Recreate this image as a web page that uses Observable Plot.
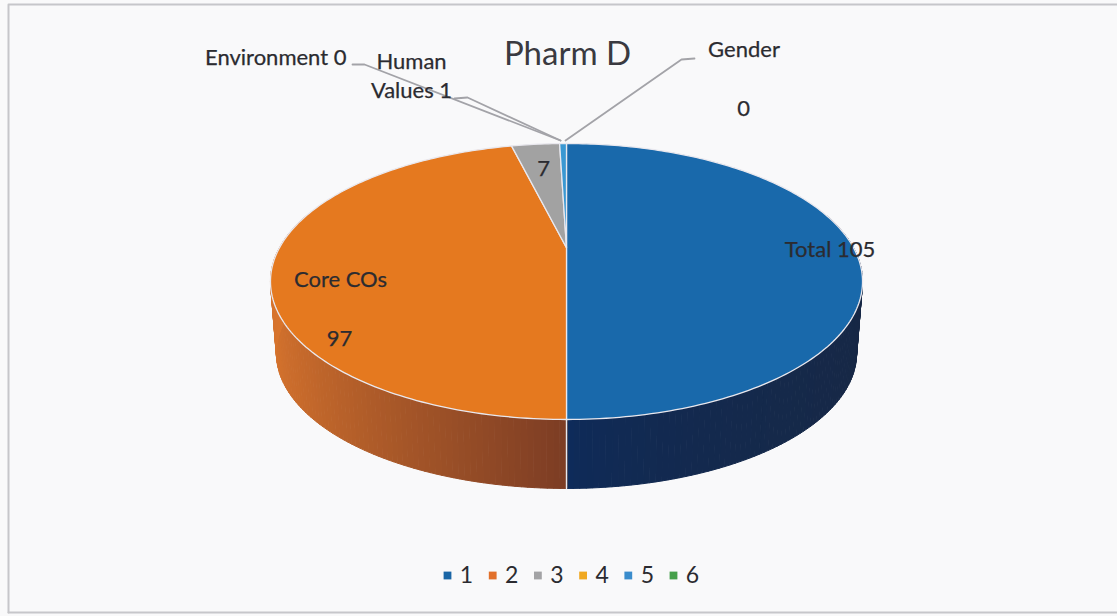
<!DOCTYPE html>
<html>
<head>
<meta charset="utf-8">
<script src="https://cdn.jsdelivr.net/npm/d3@7"></script>
<script src="https://cdn.jsdelivr.net/npm/@observablehq/plot@0.6"></script>
<style>
html,body{margin:0;padding:0;background:#f9f9fa;overflow:hidden}
svg{display:block;background:transparent !important}
</style>
</head>
<body>
<div id="chart"></div>
<script>
// DATA
const seriesIds = ["1", "2", "3", "4", "5", "6"];
const seriesValues = [105, 97, 7, 0, 1, 0];
const titleText = "Pharm D";
const valueLabels = ["Total 105", "Core COs", "97", "7", "Environment 0", "Human", "Values 1", "Gender", "0"];

// STYLE & LAYOUT
const W = 1117, H = 616;
const cx = 566, c0 = 247.2;            // projected pie centre
const persp = 0.245, A = 287, B = 129.7; // perspective tilt of the disc
const baseScale = 0.98, baseDrop = 72.4; // lower rim of the cylinder
const topColors = ["#1969ab", "#e5791f", "#a2a2a2", "#f0a81c", "#3a98d2", "#4ea345"];
const legendColors = ["#1a66a6", "#e2702a", "#a3a3a5", "#f0a820", "#3a8ccc", "#45a04a"];
const sideRamps = [["#0d2b5c", "#172845"], ["#7c3d24", "#d9752d"], ["#666", "#666"], ["#a07010", "#a07010"], ["#25608a", "#25608a"], ["#2f6e30", "#2f6e30"]];
const labelPlace = [
  [829.5, 249, "middle"], [340, 279, "middle"], [339, 338, "middle"], [543, 168, "middle"],
  [346, 57, "end"], [411, 61, "middle"], [411, 90, "middle"], [743.5, 49, "middle"], [743, 108, "middle"]
];
const leaderPaths = [
  [[352, 64], [364, 64], [560, 140]],
  [[454, 98], [467, 97], [560, 140]],
  [[694, 58], [681, 59], [565, 140]]
];
const legendX = seriesIds.map((_, i) => 447 + i * 45.2);

// GEOMETRY derived from the values
const pie = d3.pie().sort(null).value(d => d)(seriesValues);
function pt(a, lower = false) {
  const u = Math.sin(a), v = Math.cos(a), w = 1 + persp * v;
  const X = A * u / w, Y = -B * v / w;
  return lower ? {x: cx + baseScale * X, y: c0 + baseScale * Y + baseDrop} : {x: cx + X, y: c0 + Y};
}
const STEP = Math.PI / 180;

const topRows = [];
pie.forEach((s, i) => {
  if (s.value === 0) return;
  topRows.push({id: i, color: topColors[i], x: cx, y: c0});
  const n = Math.max(2, Math.ceil((s.endAngle - s.startAngle) / STEP));
  for (let k = 0; k <= n; k++) {
    const a = s.startAngle + (s.endAngle - s.startAngle) * k / n;
    topRows.push({id: i, color: topColors[i], ...pt(a)});
  }
});

const sideRows = [];
let segId = 0;
const sideFrom = 75 * STEP, sideTo = 285 * STEP;
pie.forEach((s, i) => {
  const from = Math.max(s.startAngle, sideFrom), to = Math.min(s.endAngle, sideTo);
  if (to <= from) return;
  const n = Math.ceil((to - from) / STEP);
  for (let k = 0; k < n; k++) {
    const a0 = from + (to - from) * k / n, a1 = from + (to - from) * (k + 1) / n;
    const u = Math.min(1, Math.abs(Math.sin((a0 + a1) / 2)));
    const t = i === 0 ? Math.sqrt(u) : u;
    const color = d3.interpolateRgb(sideRamps[i][0], sideRamps[i][1])(t);
    const id = segId++;
    sideRows.push({id, color, ...pt(a0)}, {id, color, ...pt(a1)}, {id, color, ...pt(a1, true)}, {id, color, ...pt(a0, true)});
  }
});
const seam = [pt(Math.PI), pt(Math.PI, true)];

const leaderRows = leaderPaths.flatMap((p, id) => p.map(([x, y]) => ({id, x, y})));
const labelRows = valueLabels.map((text, i) => ({text, x: labelPlace[i][0], y: labelPlace[i][1], anchor: labelPlace[i][2]}));
const legendRows = seriesIds.map((id, i) => ({id, color: legendColors[i], x: legendX[i]}));
const legendY = 575;
const frame = [[8, 612], [8, 4], [W, 4]];
const frameBottom = [[8, 612], [W, 612]];

const font = "Lato, 'Open Sans', sans-serif";
const textOpts = (o) => ({fontFamily: font, fill: "#2b2b30", lineAnchor: "middle", ...o});
const labelMark = (anchor) => Plot.text(labelRows.filter(d => d.anchor === anchor), {x: "x", y: "y", text: "text", textAnchor: anchor, ...textOpts({fontSize: 22, stroke: "#2b2b30", strokeWidth: 0.25})});

const chart = Plot.plot({
  width: W, height: H, margin: 0,
  x: {domain: [0, W], range: [0, W], axis: null},
  y: {domain: [0, H], range: [0, H], axis: null},
  color: {type: "identity"},
  style: {background: "transparent", overflow: "hidden"},
  marks: [
    Plot.line(frame, {x: d => d[0], y: d => d[1], stroke: "#c6c6ca", strokeWidth: 2}),
    Plot.line(frameBottom, {x: d => d[0], y: d => d[1], stroke: "#c6c6ca", strokeWidth: 2}),
    Plot.line(sideRows, {x: "x", y: "y", z: "id", fill: "color", stroke: "color", strokeWidth: 1, curve: "linear-closed"}),
    Plot.line(seam, {x: "x", y: "y", stroke: "#e6e8f0", strokeWidth: 1.4}),
    Plot.line(topRows, {x: "x", y: "y", z: "id", fill: "color", stroke: "#e9e8ee", strokeWidth: 1.3, curve: "linear-closed"}),
    Plot.line(leaderRows, {x: "x", y: "y", z: "id", stroke: "#a3a3a8", strokeWidth: 1.8}),
    Plot.text([titleText], {x: 567, y: 54, text: d => d, ...textOpts({fontSize: 33, fill: "#3a3a40"})}),
    labelMark("middle"),
    labelMark("end"),
    Plot.dot(legendRows, {x: "x", y: legendY, symbol: "square", r: 4.4, fill: "color"}),
    Plot.text(legendRows, {x: d => d.x + 19, y: legendY, text: "id", ...textOpts({fontSize: 23})})
  ]
});
document.getElementById("chart").append(chart);
</script>
</body>
</html>
